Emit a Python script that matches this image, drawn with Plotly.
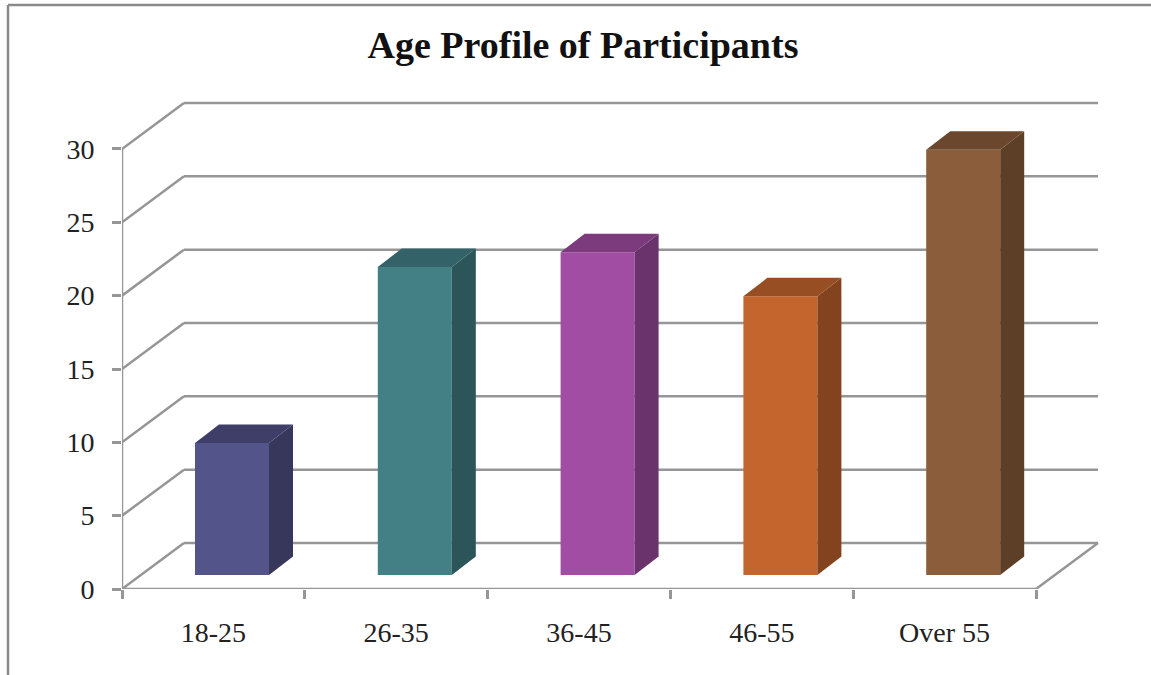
import plotly.graph_objects as go

TITLE = "Age Profile of Participants"
categories = ["18-25", "26-35", "36-45", "46-55", "Over 55"]
values = [9, 21, 22, 19, 29]
y_ticks = [0, 5, 10, 15, 20, 25, 30]
front_colors = ["#53548A", "#438086", "#A04DA3", "#C4652D", "#8B5D3B"]
side_colors = ["#37375C", "#2C5559", "#6A336C", "#83431E", "#5D3E27"]
top_colors = ["#3E3E68", "#336368", "#7B3B7D", "#964E22", "#6B482D"]

W, H = 1151, 675
L, R, T, B = 122, 1099, 60, 589
PX_X = 182.8
PX_Y = 14.667
LINE = "#969696"
FONT = "Liberation Serif"

# oblique projection of the chart's depth, in axis units
wall_dx, wall_dy = 62 / PX_X, 46 / PX_Y
bar_dx, bar_dy = 24 / PX_X, 18.5 / PX_Y
bar_shift, bar_base, bar_w = 18.6 / PX_X, 14 / PX_Y, 74 / PX_X

x0, x1 = -0.5, len(categories) - 0.5
xs = list(range(len(categories)))

fig = go.Figure()
fig.add_trace(go.Bar(
    x=[i + bar_shift for i in xs], y=values, base=[bar_base] * len(values),
    width=bar_w, marker=dict(color=front_colors, line=dict(width=0)),
    showlegend=False, hoverinfo="skip"))

for i, v in enumerate(values):
    l = i + bar_shift - bar_w / 2
    r = i + bar_shift + bar_w / 2
    lo = bar_base
    hi = bar_base + v
    fig.add_trace(go.Scatter(
        x=[r, r + bar_dx, r + bar_dx, r, r], y=[lo, lo + bar_dy, hi + bar_dy, hi, lo],
        mode="none", fill="toself", fillcolor=side_colors[i], showlegend=False, hoverinfo="skip"))
    fig.add_trace(go.Scatter(
        x=[l, r, r + bar_dx, l + bar_dx, l], y=[hi, hi, hi + bar_dy, hi + bar_dy, hi],
        mode="none", fill="toself", fillcolor=top_colors[i], showlegend=False, hoverinfo="skip"))

# front axis lines, drawn unclipped
fig.add_trace(go.Scatter(x=[x0, x0, x1], y=[y_ticks[-1], 0, 0], mode="lines",
                         line=dict(color=LINE, width=2.5), cliponaxis=False,
                         showlegend=False, hoverinfo="skip"))

shapes = []
line_style = dict(color=LINE, width=2.5)
for t in y_ticks:
    shapes.append(dict(type="line", xref="x", yref="y", layer="below", x0=x0, y0=t,
                       x1=x0 + wall_dx, y1=t + wall_dy, line=line_style))
    shapes.append(dict(type="line", xref="x", yref="y", layer="below", x0=x0 + wall_dx, y0=t + wall_dy,
                       x1=x1 + wall_dx, y1=t + wall_dy, line=line_style))
shapes.append(dict(type="line", xref="x", yref="y", layer="below", x0=x1, y0=0,
                   x1=x1 + wall_dx, y1=wall_dy, line=line_style))
# outer picture frame
frame = dict(color="#8A8A8A", width=2.5)
shapes.append(dict(type="line", xref="paper", yref="paper",
                   x0=(8 - L) / (R - L), x1=(W - L) / (R - L),
                   y0=(B - 5) / (B - T), y1=(B - 5) / (B - T), line=frame))
shapes.append(dict(type="line", xref="paper", yref="paper",
                   x0=(8 - L) / (R - L), x1=(8 - L) / (R - L),
                   y0=(B - 5) / (B - T), y1=(B - H) / (B - T), line=frame))

fig.update_layout(
    width=W, height=H, autosize=False,
    margin=dict(l=L, r=W - R, t=T, b=H - B),
    paper_bgcolor="white", plot_bgcolor="white",
    barmode="overlay", showlegend=False, shapes=shapes,
    title=dict(text="<b>" + TITLE + "</b>", x=583 / W, xanchor="center",
               y=1 - 45 / H, yanchor="middle",
               font=dict(family=FONT, size=38, color="#111111")),
    font=dict(family=FONT, color="#222222"),
    xaxis=dict(range=[x0, x0 + (R - L) / PX_X], showgrid=False, zeroline=False, showline=False,
               tickmode="array", tickvals=xs, ticktext=categories, ticks="", ticklabelstandoff=24,
               tickfont=dict(family=FONT, size=28, color="#222222"),
               minor=dict(ticks="outside", ticklen=9, tickwidth=2.5, tickcolor=LINE,
                          tickmode="array", tickvals=[x0 + k for k in range(len(categories) + 1)])),
    yaxis=dict(range=[0, (B - T) / PX_Y], showgrid=False, zeroline=False, showline=False,
               tickmode="array", tickvals=y_ticks, ticks="outside", ticklen=9, tickwidth=2.5,
               tickcolor=LINE, ticklabelstandoff=12,
               tickfont=dict(family=FONT, size=28, color="#222222")),
)

fig.write_html("out.html", config=dict(displayModeBar=False),
               post_script="document.documentElement.style.overflow='hidden';document.body.style.margin='0';")
